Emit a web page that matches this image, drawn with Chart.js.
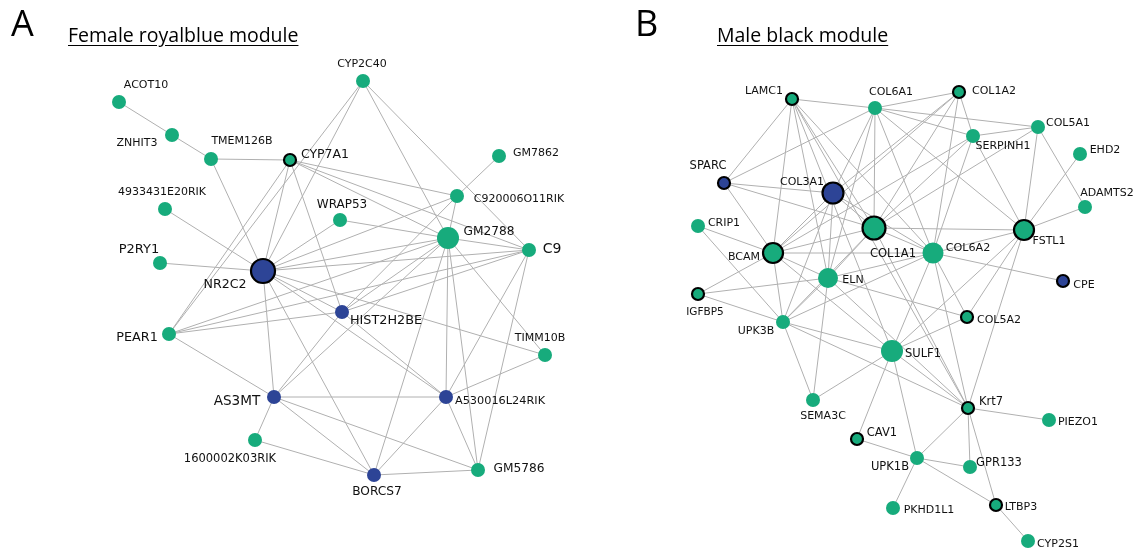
<!DOCTYPE html>
<html>
<head>
<meta charset="utf-8">
<title>Co-expression modules</title>
<script src="https://cdn.jsdelivr.net/npm/chart.js@4.4.1/dist/chart.umd.min.js"></script>
<style>
  body { margin: 0; background: #fff; }
  #wrap { position: relative; width: 1135px; height: 550px; }
  #net { position: absolute; left: 0; top: 0; }
  .letter { position: absolute; font-family: "Open Sans", sans-serif; font-size: 36px; line-height: 1; color: #000; }
  .title { position: absolute; font-family: "Open Sans", sans-serif; font-size: 19.5px; line-height: 1; color: #000; text-decoration: underline; text-underline-offset: 3px; }
</style>
</head>
<body>
<div id="wrap">
  <canvas id="net" width="1135" height="550"></canvas>
  <div class="letter" style="left:11px;top:5px;">A</div>
  <div class="title" style="left:68px;top:25px;">Female royalblue module</div>
  <div class="letter" style="left:635px;top:5px;">B</div>
  <div class="title" style="left:717px;top:25px;">Male black module</div>
</div>
<script>
// ---- Female royalblue module: genes, layout coordinates, group ----
const genesA = ['ACOT10', 'ZNHIT3', 'TMEM126B', 'CYP7A1', 'CYP2C40', 'GM7862', 'C920006O11RIK',
  '4933431E20RIK', 'WRAP53', 'GM2788', 'C9', 'P2RY1', 'NR2C2', 'HIST2H2BE', 'PEAR1', 'TIMM10B',
  'AS3MT', 'A530016L24RIK', '1600002K03RIK', 'GM5786', 'BORCS7'];
const xA = [119, 172, 211, 290, 363, 499, 457, 165, 340, 448, 529, 160, 263, 342, 169, 545, 274, 446, 255, 478, 374];
const yA = [102, 135, 159, 160, 81, 156, 196, 209, 220, 238, 250, 263, 271, 312, 334, 355, 397, 397, 440, 470, 475];
// 1 = royalblue member, 0 = other
const groupA = [0, 0, 0, 0, 0, 0, 0, 0, 0, 0, 0, 0, 1, 1, 0, 0, 1, 1, 0, 0, 1];
const hubA = ['NR2C2', 'CYP7A1'];
const edgesA = [
  ['ACOT10', 'ZNHIT3'], ['ZNHIT3', 'TMEM126B'], ['TMEM126B', 'CYP7A1'], ['TMEM126B', 'NR2C2'],
  ['4933431E20RIK', 'NR2C2'], ['P2RY1', 'NR2C2'], ['CYP7A1', 'NR2C2'], ['CYP7A1', 'PEAR1'],
  ['CYP7A1', 'HIST2H2BE'], ['CYP7A1', 'C920006O11RIK'], ['CYP7A1', 'GM2788'], ['CYP7A1', 'C9'],
  ['CYP2C40', 'PEAR1'], ['CYP2C40', 'NR2C2'], ['CYP2C40', 'GM2788'], ['CYP2C40', 'C9'],
  ['GM7862', 'C920006O11RIK'], ['C920006O11RIK', 'NR2C2'], ['C920006O11RIK', 'HIST2H2BE'],
  ['C920006O11RIK', 'GM2788'], ['WRAP53', 'NR2C2'], ['WRAP53', 'GM2788'],
  ['GM2788', 'NR2C2'], ['GM2788', 'PEAR1'], ['GM2788', 'HIST2H2BE'], ['GM2788', 'AS3MT'],
  ['GM2788', 'A530016L24RIK'], ['GM2788', 'GM5786'], ['GM2788', 'BORCS7'], ['GM2788', 'TIMM10B'],
  ['GM2788', 'C9'], ['C9', 'NR2C2'], ['C9', 'PEAR1'], ['C9', 'HIST2H2BE'], ['C9', 'A530016L24RIK'],
  ['C9', 'GM5786'], ['NR2C2', 'HIST2H2BE'], ['NR2C2', 'TIMM10B'], ['NR2C2', 'A530016L24RIK'],
  ['NR2C2', 'AS3MT'], ['NR2C2', 'BORCS7'], ['HIST2H2BE', 'PEAR1'], ['HIST2H2BE', 'AS3MT'],
  ['HIST2H2BE', 'A530016L24RIK'], ['PEAR1', 'AS3MT'], ['AS3MT', 'A530016L24RIK'],
  ['AS3MT', 'BORCS7'], ['AS3MT', 'GM5786'], ['AS3MT', '1600002K03RIK'],
  ['A530016L24RIK', 'TIMM10B'], ['A530016L24RIK', 'BORCS7'], ['A530016L24RIK', 'GM5786'],
  ['BORCS7', '1600002K03RIK'], ['BORCS7', 'GM5786']
];

// ---- Male black module ----
const genesB = ['LAMC1', 'COL6A1', 'COL1A2', 'COL5A1', 'EHD2', 'SERPINH1', 'SPARC', 'COL3A1', 'ADAMTS2',
  'CRIP1', 'COL1A1', 'FSTL1', 'BCAM', 'COL6A2', 'ELN', 'CPE', 'IGFBP5', 'UPK3B', 'COL5A2', 'SULF1',
  'SEMA3C', 'Krt7', 'PIEZO1', 'CAV1', 'UPK1B', 'GPR133', 'PKHD1L1', 'LTBP3', 'CYP2S1'];
const xB = [792, 875, 959, 1038, 1080, 973, 724, 833, 1085, 698, 874, 1024, 773, 933, 828, 1063, 698, 783,
  967, 892, 813, 968, 1049, 857, 917, 970, 893, 996, 1028];
const yB = [99, 108, 92, 127, 154, 136, 183, 193, 207, 226, 228, 230, 253, 253, 278, 281, 294, 322, 317,
  351, 400, 408, 420, 439, 458, 467, 508, 505, 541];
const groupB = [0, 0, 0, 0, 0, 0, 1, 1, 0, 0, 0, 0, 0, 0, 0, 1, 0, 0, 0, 0, 0, 0, 0, 0, 0, 0, 0, 0, 0];
const hubB = ['LAMC1', 'COL1A2', 'SPARC', 'COL3A1', 'COL1A1', 'FSTL1', 'BCAM', 'CPE', 'IGFBP5',
  'COL5A2', 'Krt7', 'CAV1', 'LTBP3'];
const edgesB = [
  ['LAMC1', 'COL6A1'], ['LAMC1', 'SPARC'], ['LAMC1', 'BCAM'], ['LAMC1', 'ELN'], ['LAMC1', 'COL1A1'],
  ['LAMC1', 'COL6A2'], ['LAMC1', 'SULF1'], ['LAMC1', 'Krt7'],
  ['COL6A1', 'COL1A2'], ['COL6A1', 'SERPINH1'], ['COL6A1', 'COL5A1'], ['COL6A1', 'SPARC'],
  ['COL6A1', 'COL3A1'], ['COL6A1', 'COL1A1'], ['COL6A1', 'COL6A2'], ['COL6A1', 'FSTL1'], ['COL6A1', 'ELN'],
  ['COL1A2', 'SERPINH1'], ['COL1A2', 'COL3A1'], ['COL1A2', 'COL1A1'], ['COL1A2', 'COL6A2'], ['COL1A2', 'BCAM'],
  ['COL5A1', 'SERPINH1'], ['COL5A1', 'FSTL1'], ['COL5A1', 'ADAMTS2'], ['COL5A1', 'COL1A1'],
  ['SERPINH1', 'COL1A1'], ['SERPINH1', 'FSTL1'], ['SERPINH1', 'COL6A2'], ['SERPINH1', 'BCAM'],
  ['EHD2', 'FSTL1'], ['ADAMTS2', 'FSTL1'],
  ['SPARC', 'COL3A1'], ['SPARC', 'COL1A1'], ['SPARC', 'BCAM'], ['CRIP1', 'BCAM'], ['CRIP1', 'UPK3B'],
  ['COL3A1', 'BCAM'], ['COL3A1', 'ELN'], ['COL3A1', 'COL1A1'], ['COL3A1', 'COL6A2'], ['COL3A1', 'UPK3B'],
  ['COL1A1', 'BCAM'], ['COL1A1', 'COL6A2'], ['COL1A1', 'FSTL1'], ['COL1A1', 'ELN'], ['COL1A1', 'UPK3B'],
  ['COL1A1', 'Krt7'], ['FSTL1', 'COL6A2'], ['FSTL1', 'COL5A2'], ['FSTL1', 'SULF1'], ['FSTL1', 'Krt7'],
  ['COL6A2', 'CPE'], ['COL6A2', 'BCAM'], ['COL6A2', 'ELN'], ['COL6A2', 'UPK3B'], ['COL6A2', 'SULF1'],
  ['COL6A2', 'COL5A2'], ['COL6A2', 'Krt7'],
  ['BCAM', 'IGFBP5'], ['BCAM', 'UPK3B'], ['BCAM', 'SULF1'], ['BCAM', 'ELN'],
  ['IGFBP5', 'ELN'], ['IGFBP5', 'UPK3B'], ['ELN', 'UPK3B'], ['ELN', 'SEMA3C'], ['ELN', 'COL5A2'],
  ['ELN', 'Krt7'], ['UPK3B', 'SULF1'], ['UPK3B', 'Krt7'], ['UPK3B', 'SEMA3C'],
  ['SULF1', 'SEMA3C'], ['SULF1', 'COL5A2'], ['SULF1', 'Krt7'], ['SULF1', 'CAV1'], ['SULF1', 'UPK1B'],
  ['Krt7', 'PIEZO1'], ['Krt7', 'UPK1B'], ['Krt7', 'GPR133'], ['Krt7', 'LTBP3'],
  ['UPK1B', 'CAV1'], ['UPK1B', 'GPR133'], ['UPK1B', 'PKHD1L1'], ['UPK1B', 'LTBP3'], ['LTBP3', 'CYP2S1']
];

// ---- drawing styles ----
const GREEN = '#17ab7c';
const BLUE = '#2d4496';
const EDGE = '#b0b0b0';

// node radius per gene (pixels); defaults to the small size
const radius = {
  NR2C2: 12, GM2788: 11, CYP7A1: 6,
  COL1A1: 11.5, COL3A1: 10.5, BCAM: 10, FSTL1: 10, COL6A2: 10.5, ELN: 10, SULF1: 11,
  LAMC1: 6, COL1A2: 6, SPARC: 6, CPE: 6, IGFBP5: 6, COL5A2: 6, Krt7: 6, CAV1: 6, LTBP3: 6
};
// label offset from node centre and font size
const labelA = {
  ACOT10: [27, -17, 11], ZNHIT3: [-35, 8, 11], TMEM126B: [31, -18, 11], CYP7A1: [35, -5, 12.5],
  CYP2C40: [-1, -17, 11], GM7862: [37, -3, 11], C920006O11RIK: [62, 3, 11], '4933431E20RIK': [-3, -17, 11],
  WRAP53: [2, -15, 12], GM2788: [41, -6, 12.2], C9: [23, -1, 14], P2RY1: [-21, -13, 13],
  NR2C2: [-38, 14, 12.6], HIST2H2BE: [44, 9, 12.8], PEAR1: [-32, 4, 12.8], TIMM10B: [-5, -17, 11],
  AS3MT: [-37, 4, 13.6], A530016L24RIK: [54, 4, 11.3], '1600002K03RIK': [-25, 19, 11.5],
  GM5786: [41, -1, 12.2], BORCS7: [3, 17, 12.2]
};
const labelB = {
  LAMC1: [-28, -8, 11], COL6A1: [16, -16, 11], COL1A2: [35, -1, 11], COL5A1: [30, -4, 11],
  EHD2: [25, -4, 11], SERPINH1: [30, 10, 11], SPARC: [-16, -17, 11.5], COL3A1: [-31, -11, 11],
  ADAMTS2: [22, -14, 11], CRIP1: [26, -3, 11], COL1A1: [19, 26, 11.5], FSTL1: [25, 11, 11],
  BCAM: [-29, 4, 11], COL6A2: [35, -5, 11.2], ELN: [25, 2, 11], CPE: [21, 4, 11],
  IGFBP5: [7, 18, 10.5], UPK3B: [-27, 9, 11], COL5A2: [32, 3, 11], SULF1: [31, 3, 11.5],
  SEMA3C: [10, 16, 11], Krt7: [23, -6, 11.5], PIEZO1: [29, 2, 11], CAV1: [25, -6, 11.5],
  UPK1B: [-27, 9, 11.5], GPR133: [29, -4, 11.5], PKHD1L1: [36, 2, 11], LTBP3: [25, 2, 11],
  CYP2S1: [30, 3, 11]
};

function nodeDataset(genes, xs, ys, groups, hubs) {
  return {
    type: 'scatter',
    order: 0,
    clip: false,
    data: genes.map((g, i) => ({ x: xs[i], y: ys[i], gene: g })),
    pointRadius: genes.map(g => radius[g] || 7),
    pointHoverRadius: genes.map(g => radius[g] || 7),
    pointBackgroundColor: genes.map((g, i) => groups[i] ? BLUE : GREEN),
    pointBorderColor: genes.map((g, i) => hubs.includes(g) ? '#000' : (groups[i] ? BLUE : GREEN)),
    pointBorderWidth: genes.map(g => hubs.includes(g) ? 2.2 : 0)
  };
}

function edgeDatasets(genes, xs, ys, edges) {
  return edges.map(([a, b]) => {
    const i = genes.indexOf(a), j = genes.indexOf(b);
    return {
      type: 'line',
      order: 1,
      clip: false,
      data: [{ x: xs[i], y: ys[i] }, { x: xs[j], y: ys[j] }],
      borderColor: EDGE,
      borderWidth: 1,
      pointRadius: 0,
      fill: false
    };
  });
}

const datasets = [
  nodeDataset(genesA, xA, yA, groupA, hubA),
  nodeDataset(genesB, xB, yB, groupB, hubB),
  ...edgeDatasets(genesA, xA, yA, edgesA),
  ...edgeDatasets(genesB, xB, yB, edgesB)
];

// Gene names next to the nodes
const geneLabels = {
  id: 'geneLabels',
  afterDatasetsDraw(chart) {
    const ctx = chart.ctx;
    ctx.save();
    ctx.fillStyle = '#111';
    ctx.textAlign = 'center';
    ctx.textBaseline = 'middle';
    [[0, labelA], [1, labelB]].forEach(([di, table]) => {
      const meta = chart.getDatasetMeta(di);
      chart.data.datasets[di].data.forEach((d, i) => {
        const el = meta.data[i];
        const [dx, dy, size] = table[d.gene];
        ctx.font = size + 'px "DejaVu Sans"';
        ctx.fillText(d.gene, el.x + dx, el.y + dy);
      });
    });
    ctx.restore();
  }
};

new Chart(document.getElementById('net'), {
  type: 'scatter',
  data: { datasets },
  options: {
    responsive: false,
    animation: false,
    events: [],
    layout: { padding: 0, autoPadding: false },
    plugins: { legend: { display: false }, tooltip: { enabled: false } },
    scales: {
      x: { type: 'linear', display: false, min: 0, max: 1135 },
      y: { type: 'linear', display: false, min: 0, max: 550, reverse: true }
    }
  },
  plugins: [geneLabels]
});
</script>
</body>
</html>
